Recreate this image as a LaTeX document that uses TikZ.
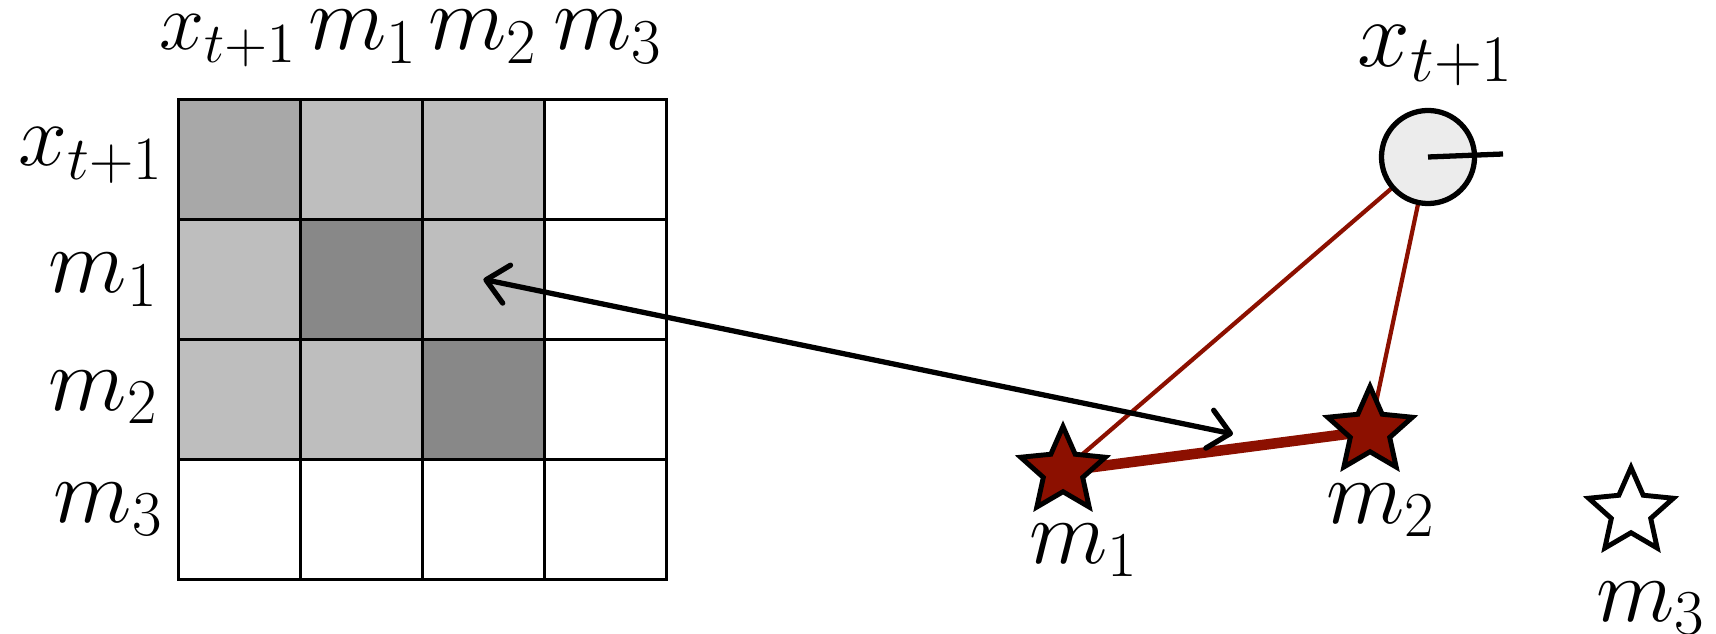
\RequirePackage{fix-cm}
\documentclass[tikz,border=0pt]{standalone}
\usetikzlibrary{shapes.geometric,arrows.meta}
\pgfdeclarelayer{background}
\pgfsetlayers{background,main}
\definecolor{dred}{RGB}{140,16,0}
\definecolor{gA}{RGB}{168,168,168}
\definecolor{gB}{RGB}{190,190,190}
\definecolor{gC}{RGB}{136,136,136}
\definecolor{cfill}{RGB}{236,236,236}
\begin{document}
\begin{tikzpicture}[x=0.01cm,y=-0.01cm,
  lbl/.style={inner sep=0pt, font=\fontsize{26}{30}\selectfont},
  cell/.style={draw, line width=0.75pt, minimum width=1.22cm, minimum height=1.2cm, inner sep=0pt, anchor=north west},
  starnode/.style={star, star points=5, star point ratio=2.15, minimum size=0.89cm, inner sep=0pt, draw, line width=1.4pt},
  redthin/.style={draw=dred, line width=1.2pt},
  redthick/.style={draw=dred, line width=3pt},
  dblarrow/.style={line width=1.5pt, {Straight Barb[length=6pt,width=11pt,round]}-{Straight Barb[length=6pt,width=11pt,round]}}
]
\useasboundingbox (0,0) rectangle (1716,634);
% grid
\node[cell, fill=gA] (c00) at (177,98) {};
\node[cell, fill=gB] (c01) at (299,98) {};
\node[cell, fill=gB] (c02) at (421,98) {};
\node[cell, fill=white] (c03) at (543,98) {};
\node[cell, fill=gB] (c10) at (177,218) {};
\node[cell, fill=gC] (c11) at (299,218) {};
\node[cell, fill=gB] (c12) at (421,218) {};
\node[cell, fill=white] (c13) at (543,218) {};
\node[cell, fill=gB] (c20) at (177,338) {};
\node[cell, fill=gB] (c21) at (299,338) {};
\node[cell, fill=gC] (c22) at (421,338) {};
\node[cell, fill=white] (c23) at (543,338) {};
\node[cell, fill=white] (c30) at (177,458) {};
\node[cell, fill=white] (c31) at (299,458) {};
\node[cell, fill=white] (c32) at (421,458) {};
\node[cell, fill=white] (c33) at (543,458) {};
% top labels
\node[lbl, anchor=base, font=\fontsize{23}{27}\selectfont] (tx) at (228,50) {$x_{t+1}$};
\node[lbl, anchor=base] (tm1) at (363,50) {$m_1$};
\node[lbl, anchor=base] (tm2) at (483,50) {$m_2$};
\node[lbl, anchor=base] (tm3) at (608,50) {$m_3$};
% left labels
\node[lbl, anchor=base east, font=\fontsize{25}{29}\selectfont] (lx) at (164,166) {$x_{t+1}$};
\node[lbl, anchor=base east] (lm1) at (159,293) {$m_1$};
\node[lbl, anchor=base east] (lm2) at (159,410) {$m_2$};
\node[lbl, anchor=base east] (lm3) at (164,522) {$m_3$};
% right part
\node[circle, draw, line width=1.5pt, fill=cfill, minimum size=0.93cm, inner sep=0pt] (xc) at (1428,157) {};
\coordinate (xr) at (1503,154);
\draw[line width=1.5pt] (xc.center) -- (xr);
\node[starnode, fill=dred] (s1) at (1063,471) {};
\node[starnode, fill=dred] (s2) at (1370,431) {};
\node[starnode, fill=white] (s3) at (1631,512) {};
\begin{pgfonlayer}{background}
\draw[redthin] (xc.center) -- (s1.center);
\draw[redthin] (xc.center) -- (s2.center);
\draw[redthick] (s1.center) -- (s2.center);
\end{pgfonlayer}
\node[lbl, anchor=base, font=\fontsize{27}{31}\selectfont] (rx) at (1436,67) {$x_{t+1}$};
\node[lbl, anchor=base] (rm1) at (1084,563) {$m_1$};
\node[lbl, anchor=base] (rm2) at (1381,523) {$m_2$};
\node[lbl, anchor=base] (rm3) at (1651,621) {$m_3$};
% arrow
\coordinate (aend) at (1233,434);
\draw[dblarrow] (c12.center) -- (aend);
\end{tikzpicture}
\end{document}
